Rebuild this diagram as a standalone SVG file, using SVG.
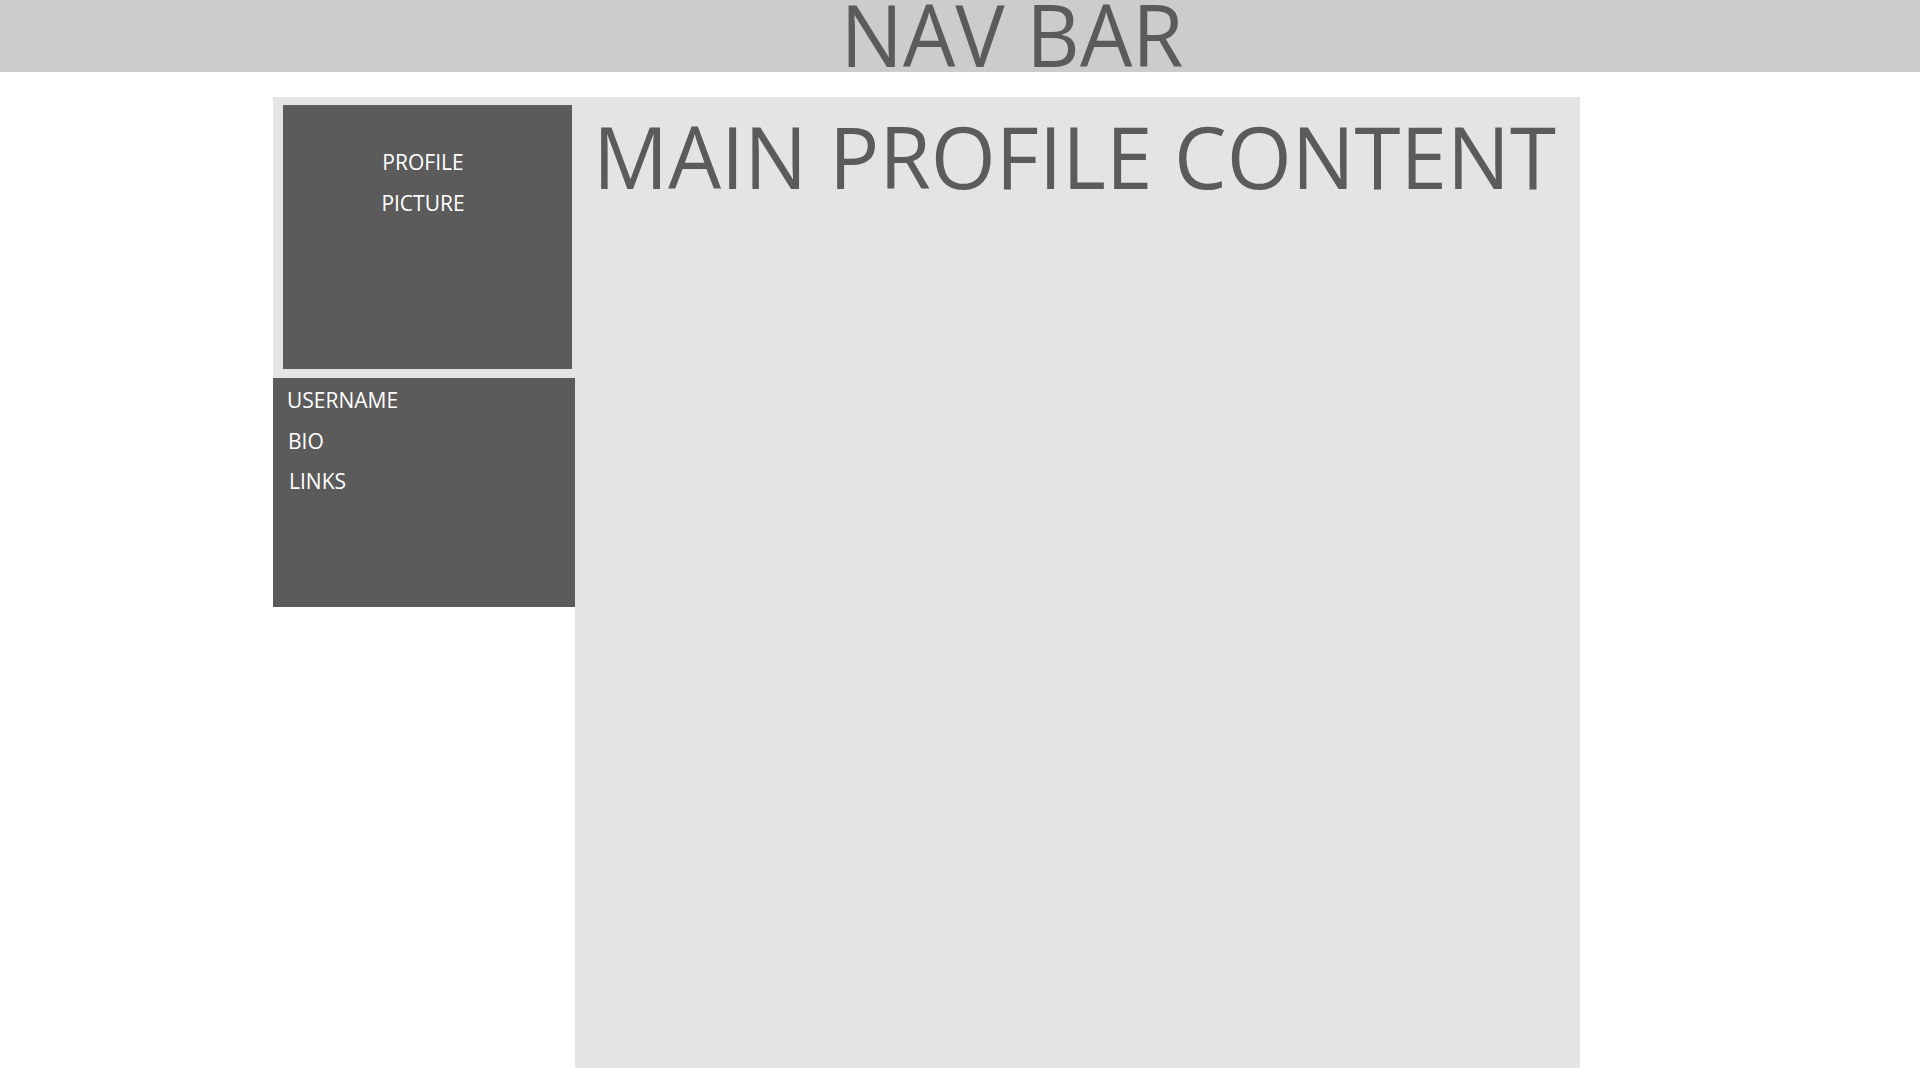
<svg xmlns="http://www.w3.org/2000/svg" width="1920" height="1080" viewBox="0 0 1920 1080">
<style>
.big{font-family:"Open Sans","Noto Sans",sans-serif;font-size:86px;fill:#5b5b5b}
.small{font-family:"Open Sans","Noto Sans",sans-serif;font-size:21px;fill:#ffffff}
</style>
<rect x="0" y="0" width="1920" height="1080" fill="#ffffff"/>
<g id="navbar">
<rect x="0" y="0" width="1920" height="72" fill="#cccccc"/>
<text class="big" x="1012" y="67" text-anchor="middle" textLength="343" lengthAdjust="spacingAndGlyphs">NAV BAR</text>
</g>
<g id="main-content">
<rect x="273" y="97" width="1307" height="281" fill="#e4e4e4"/>
<rect x="575" y="97" width="1005" height="971" fill="#e4e4e4"/>
<text class="big" x="593" y="189" textLength="963" lengthAdjust="spacingAndGlyphs">MAIN PROFILE CONTENT</text>
</g>
<g id="profile-picture">
<rect x="283" y="105" width="289" height="264" fill="#5b5b5b"/>
<text class="small" x="423" y="170" text-anchor="middle">PROFILE</text>
<text class="small" x="423" y="211" text-anchor="middle">PICTURE</text>
</g>
<g id="profile-info">
<rect x="273" y="378" width="302" height="229" fill="#5b5b5b"/>
<text class="small" x="287" y="408">USERNAME</text>
<text class="small" x="288" y="449">BIO</text>
<text class="small" x="289" y="489">LINKS</text>
</g>
<g id="connectors"/>
</svg>
